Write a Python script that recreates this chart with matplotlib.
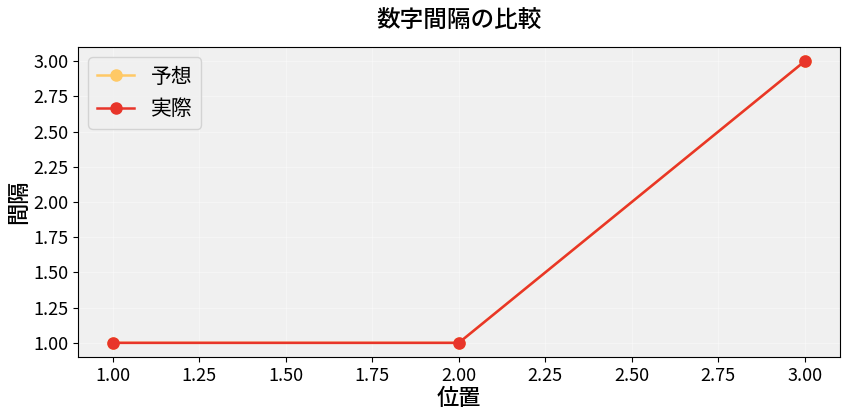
import matplotlib
matplotlib.use("Agg")
import matplotlib.pyplot as plt
from matplotlib.ticker import MultipleLocator

positions = [1, 2, 3]
expected = [1, 1, 3]
actual = [1, 1, 3]
series_labels = ["予想", "実際"]

plt.rcParams['font.family'] = ['Noto Sans CJK JP', 'DejaVu Sans']

fig, ax = plt.subplots(figsize=(8.48, 4.16), dpi=100)
ax.set_facecolor('#f0f0f0')
ax.plot(positions, expected, marker='o', color='#FFC966', linewidth=1.8, markersize=8, label=series_labels[0])
ax.plot(positions, actual, marker='o', color='#E8352A', linewidth=1.8, markersize=8, label=series_labels[1])
ax.grid(True, color='white', linestyle='-', alpha=0.35, linewidth=0.8)
ax.xaxis.set_major_locator(MultipleLocator(0.25))
ax.yaxis.set_major_locator(MultipleLocator(0.25))
ax.set_title('数字間隔の比較', fontsize=17, pad=14, fontweight='medium')
ax.set_xlabel('位置', fontsize=16, labelpad=2, fontweight='medium')
ax.set_ylabel('間隔', fontsize=16, labelpad=2, fontweight='medium')
ax.tick_params(labelsize=13)
ax.legend(loc='upper left', fontsize=15, facecolor='#f0f0f0', handlelength=1.8)
fig.subplots_adjust(left=0.092, right=0.99, top=0.887, bottom=0.142)
fig.savefig('out.png', dpi=100)
